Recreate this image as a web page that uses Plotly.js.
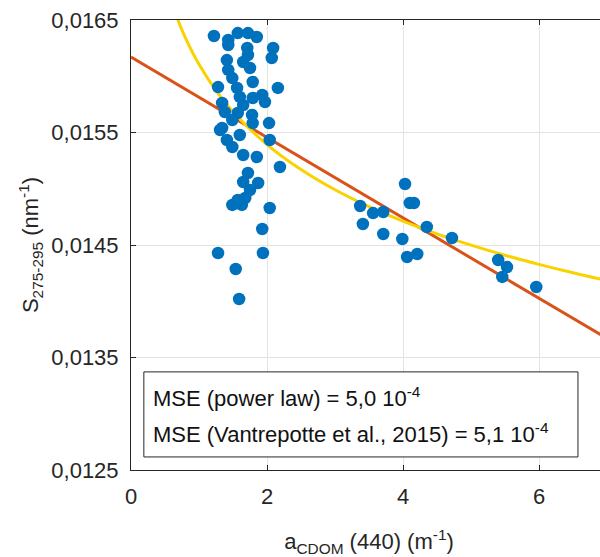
<!DOCTYPE html>
<html>
<head>
<meta charset="utf-8">
<script src="https://cdn.plot.ly/plotly-3.0.1.min.js"></script>
<style>html,body{margin:0;padding:0;overflow:hidden;background:#fff;}</style>
</head>
<body>
<div id="chart" style="width:615px;height:557px;"></div>
<script>
// Measured samples: aCDOM(440) (m^-1) vs S275-295 (nm^-1)
const aCDOM = [1.22,1.43,1.57,1.72,1.85,1.43,2.09,2.07,1.71,1.72,1.41,1.65,1.43,1.75,1.49,1.79,1.56,1.28,2.16,1.93,1.60,1.79,1.97,1.34,1.65,1.38,1.57,1.78,1.79,1.34,1.49,2.03,2.04,1.49,1.65,1.85,2.19,1.72,1.65,1.87,1.68,1.49,1.63,2.04,1.93,1.28,1.94,1.54,1.59,1.31,1.60,1.41,1.75,1.57,
  4.03,4.10,4.16,3.37,3.56,3.71,3.41,3.71,3.99,4.06,4.21,4.35,4.72,5.40,5.53,5.46,5.96];
const slope = [0.016358,0.016322,0.016384,0.016384,0.016349,0.016278,0.016251,0.016162,0.016251,0.016189,0.016144,0.016127,0.016056,0.016073,0.015984,0.015949,0.015896,0.015904,0.015896,0.015833,0.015816,0.015807,0.015771,0.015762,0.015744,0.015682,0.015673,0.015656,0.015584,0.015540,0.015611,0.015584,0.015433,0.015371,0.015300,0.015282,0.015193,0.015140,0.015060,0.015051,0.014918,0.014856,0.014856,0.014829,0.014642,0.014429,0.014429,0.014287,0.014020,0.015522,0.015478,0.015433,0.014989,0.014900,
  0.015042,0.014873,0.014873,0.014847,0.014784,0.014793,0.014687,0.014598,0.014553,0.014393,0.014420,0.014660,0.014562,0.014367,0.014304,0.014216,0.014127];

// Vantrepotte et al. (2015) linear relation
const linX = [0, 7];
const linY = [0.01617, 0.01367];

// Power-law fit, sampled from the figure
const powX = [0.6,0.7,0.8,1.0,1.25,1.5,2.0,2.5,3.0,3.5,4.0,4.5,5.0,5.5,6.0,6.5,7.0];
const powY = [0.016652,0.016485,0.016342,0.016106,0.015873,0.015685,0.015393,0.015171,0.014991,0.014841,0.014712,0.014599,0.014499,0.014409,0.014328,0.014253,0.014184];

const xTicks = [0, 2, 4, 6];
const yTicks = [0.0125, 0.0135, 0.0145, 0.0155, 0.0165];
const yTickText = ['0,0125', '0,0135', '0,0145', '0,0155', '0,0165'];

const boxLines = ['MSE (power law) = 5,0 10<sup>-4</sup>', 'MSE (Vantrepotte et al., 2015) = 5,1 10<sup>-4</sup>'];

const txtColor = '#262626';
const fs = 22;
const traces = [
  {x: linX, y: linY, type: 'scatter', mode: 'lines', line: {color: '#D95319', width: 3}, hoverinfo: 'skip'},
  {x: powX, y: powY, type: 'scatter', mode: 'lines', line: {color: '#F9D200', width: 3, shape: 'spline'}, hoverinfo: 'skip'},
  {x: aCDOM, y: slope, type: 'scatter', mode: 'markers', marker: {color: '#0072BD', size: 12.5}}
];

const layout = {
  width: 615, height: 557,
  margin: {l: 131, r: 8, t: 20, b: 87},
  paper_bgcolor: '#fff', plot_bgcolor: '#fff',
  showlegend: false,
  font: {family: '"Liberation Sans", Arial, sans-serif', size: fs, color: txtColor},
  xaxis: {
    range: [0, 7], tickvals: xTicks, ticktext: xTicks.map(String),
    showgrid: true, gridcolor: '#E3E3E3', gridwidth: 1, zeroline: false,
    showline: true, linecolor: txtColor, linewidth: 1, mirror: 'ticks',
    ticks: 'inside', ticklen: 5, tickcolor: txtColor, ticklabelstandoff: 7,
    title: {text: 'a<sub>CDOM</sub> (440) (m<sup>-1</sup>)', font: {size: fs, color: txtColor}, standoff: 26}
  },
  yaxis: {
    range: [0.0125, 0.0165], tickvals: yTicks, ticktext: yTickText,
    showgrid: true, gridcolor: '#E3E3E3', gridwidth: 1, zeroline: false,
    showline: true, linecolor: txtColor, linewidth: 1, mirror: 'ticks',
    ticks: 'inside', ticklen: 5, tickcolor: txtColor, ticklabelstandoff: 7,
    title: {text: 'S<sub>275-295</sub> (nm<sup>-1</sup>)', font: {size: fs, color: txtColor}, standoff: 6}
  },
  shapes: [
    {type: 'rect', xref: 'paper', yref: 'paper', x0: 0.027, x1: 0.939, y0: 0.029, y1: 0.218,
     line: {color: txtColor, width: 1}, fillcolor: '#fff', layer: 'above'}
  ],
  annotations: boxLines.map((t, i) => ({
    text: t, xref: 'paper', yref: 'paper', x: 0.042, y: i === 0 ? 0.162 : 0.082,
    xanchor: 'left', yanchor: 'middle', showarrow: false, align: 'left',
    font: {size: fs, color: '#111'}
  }))
};

Plotly.newPlot('chart', traces, layout, {displayModeBar: false, staticPlot: true});
</script>
</body>
</html>
